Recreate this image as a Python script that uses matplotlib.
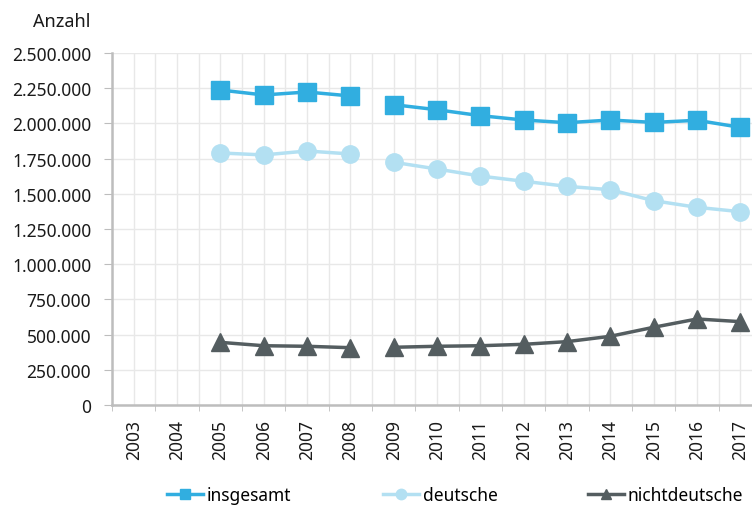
import numpy as np
import matplotlib.pyplot as plt
from matplotlib.ticker import FuncFormatter, MultipleLocator

plt.rcParams["font.family"] = ["Noto Sans", "DejaVu Sans"]

# Jahre und Werte
years = [2005, 2006, 2007, 2008, 2009, 2010, 2011, 2012, 2013, 2014, 2015, 2016, 2017]
insgesamt = [2237000, 2202000, 2223000, 2195000, 2133000, 2097000, 2055000,
             2024000, 2005000, 2024000, 2007000, 2022000, 1972000]
deutsche = [1790000, 1776000, 1804000, 1783000, 1724000, 1676000, 1626000,
            1589000, 1553000, 1529000, 1451000, 1404000, 1373000]
nichtdeutsche = [445000, 421000, 417000, 407000, 410000, 417000, 421000,
                 431000, 450000, 488000, 552000, 611000, 592000]
all_years = list(range(2003, 2018))

series = [
    ("insgesamt", insgesamt, "#31AEE0", "s", 13),
    ("deutsche", deutsche, "#B3E0F2", "o", 12.5),
    ("nichtdeutsche", nichtdeutsche, "#545D60", "^", 13),
]
legend_x = [167, 383, 588]  # linker Rand der Legendeneinträge (px)

fig = plt.figure(figsize=(7.52, 5.06), dpi=100)
ax = fig.add_axes([112 / 752, 1 - 406 / 506, 650 / 752, 352 / 506])

yrs = np.array(years)
for (label, vals, color, marker, ms), lx in zip(series, legend_x):
    vals = np.array(vals)
    lines = []
    # Bruch zwischen 2008 und 2009
    for part in [yrs <= 2008, yrs >= 2009]:
        lines += ax.plot(yrs[part], vals[part], color=color, marker=marker,
                         markersize=ms, linewidth=2.5, zorder=3)
    fig.legend([lines[0]], [label], loc="center left",
               bbox_to_anchor=(lx / 752, 1 - 496 / 506), frameon=False,
               fontsize=12.5, handlelength=2.1, handletextpad=0.2,
               borderpad=0, borderaxespad=0, markerscale=0.6)

ax.set_xlim(2002.5, 2017.5)
ax.set_ylim(0, 2500000)
ax.set_xticks(all_years)
ax.set_xticklabels([str(y) for y in all_years], rotation=90)
ax.xaxis.set_minor_locator(MultipleLocator(0.5))
ax.yaxis.set_major_locator(MultipleLocator(250000))
ax.yaxis.set_major_formatter(FuncFormatter(lambda v, p: f"{v:,.0f}".replace(",", ".")))

ax.grid(True, which="both", axis="x", color="#E8E8E8", linewidth=1)
ax.grid(True, which="major", axis="y", color="#E8E8E8", linewidth=1)
ax.set_axisbelow(True)

for s in ["top", "right"]:
    ax.spines[s].set_visible(False)
for s in ["left", "bottom"]:
    ax.spines[s].set_color("#BDBDBD")
    ax.spines[s].set_linewidth(1.8)

ax.tick_params(axis="y", labelsize=12.5, length=6, pad=9, labelcolor="#1a1a1a", color="#BDBDBD")
ax.tick_params(axis="x", which="major", labelsize=12.5, length=0, pad=10, labelcolor="#1a1a1a")
ax.tick_params(axis="x", which="minor", length=4, color="#BDBDBD")

fig.text(33 / 752, 1 - 22 / 506, "Anzahl", fontsize=13, va="center", ha="left", color="#1a1a1a")

fig.savefig("out.png", dpi=100)
